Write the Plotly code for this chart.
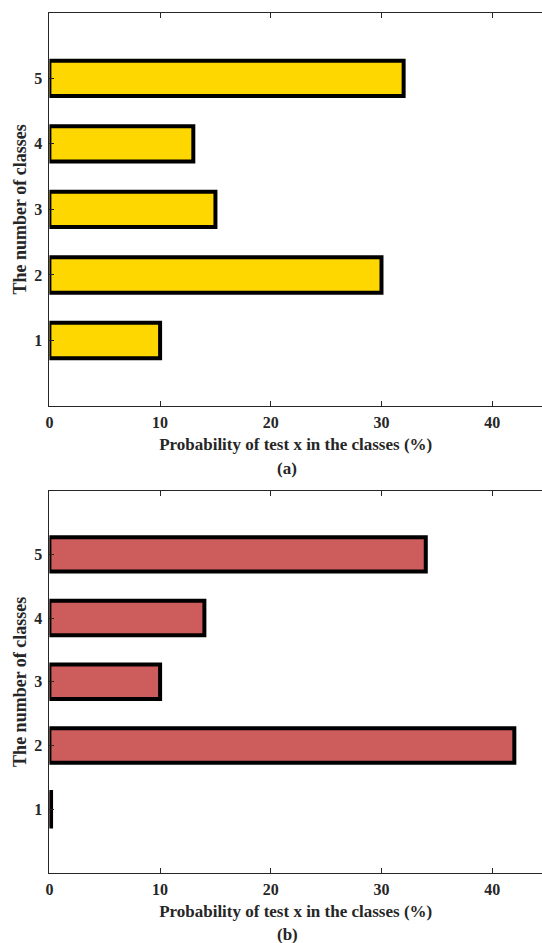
import plotly.graph_objects as go
from plotly.subplots import make_subplots

# Class indices and probabilities (%) for the two test cases
classes = [1, 2, 3, 4, 5]
prob_a = [10, 30, 15, 13, 32]
prob_b = [0.15, 42, 10, 14, 34]

x_ticks = [0, 10, 20, 30, 40]
y_ticks = [1, 2, 3, 4, 5]
x_title = "Probability of test x in the classes (%)"
y_title = "The number of classes"
captions = ["(a)", "(b)"]

W, H = 542, 943
LEFT = 49.4
FONT = "Liberation Serif, Times New Roman, serif"
AXIS_COLOR = "#262626"

fig = make_subplots(rows=2, cols=1)

fig.add_trace(go.Bar(
    x=prob_a, y=classes, orientation="h", width=0.54,
    marker=dict(color="#FFD700", line=dict(color="black", width=4)),
    cliponaxis=False, showlegend=False), row=1, col=1)
fig.add_trace(go.Bar(
    x=prob_b, y=classes, orientation="h", width=0.54,
    marker=dict(color="#CD5C5C", line=dict(color="black", width=4)),
    cliponaxis=False, showlegend=False), row=2, col=1)

# pixel placement of the two panels (top, bottom)
panels = [(12.8, 406.0), (490.6, 873.0)]
caption_y = [468, 934]

def dom(top, bottom):
    return [1 - bottom / H, 1 - top / H]

tick_font = dict(family=FONT, size=16, color="#262626", weight="bold")
xtitle_font = dict(family=FONT, size=17, color="#262626", weight="bold")
ytitle_font = dict(family=FONT, size=18, color="#262626", weight="bold")

common_x = dict(
    range=[0, 44.5], tickvals=x_ticks, ticks="inside", ticklen=5,
    tickcolor=AXIS_COLOR, showline=True, linecolor=AXIS_COLOR, linewidth=1,
    mirror="ticks", showgrid=False, zeroline=False, automargin=False,
    tickfont=tick_font, ticklabelstandoff=2,
    title=dict(text=x_title, font=xtitle_font, standoff=7),
)
common_y = dict(
    range=[0, 6], tickvals=y_ticks, ticks="inside", ticklen=5,
    tickcolor=AXIS_COLOR, showline=True, linecolor=AXIS_COLOR, linewidth=1,
    mirror=False, showgrid=False, zeroline=False, automargin=False,
    tickfont=tick_font, ticklabelstandoff=3,
    title=dict(text=y_title, font=ytitle_font, standoff=2),
)

fig.update_layout(
    xaxis=dict(common_x, domain=[LEFT / W, 1]),
    xaxis2=dict(common_x, domain=[LEFT / W, 1]),
    yaxis=dict(common_y, domain=dom(*panels[0])),
    yaxis2=dict(common_y, domain=dom(*panels[1])),
)

# panel captions below each x-axis title
for cy, cap in zip(caption_y, captions):
    fig.add_annotation(
        text=cap, xref="paper", yref="paper",
        x=287 / W, y=1 - cy / H,
        xanchor="center", yanchor="middle", showarrow=False,
        font=xtitle_font)

fig.update_layout(
    width=W, height=H, margin=dict(l=0, r=0, t=0, b=0),
    plot_bgcolor="white", paper_bgcolor="white",
)

fig.write_html("out.html")
